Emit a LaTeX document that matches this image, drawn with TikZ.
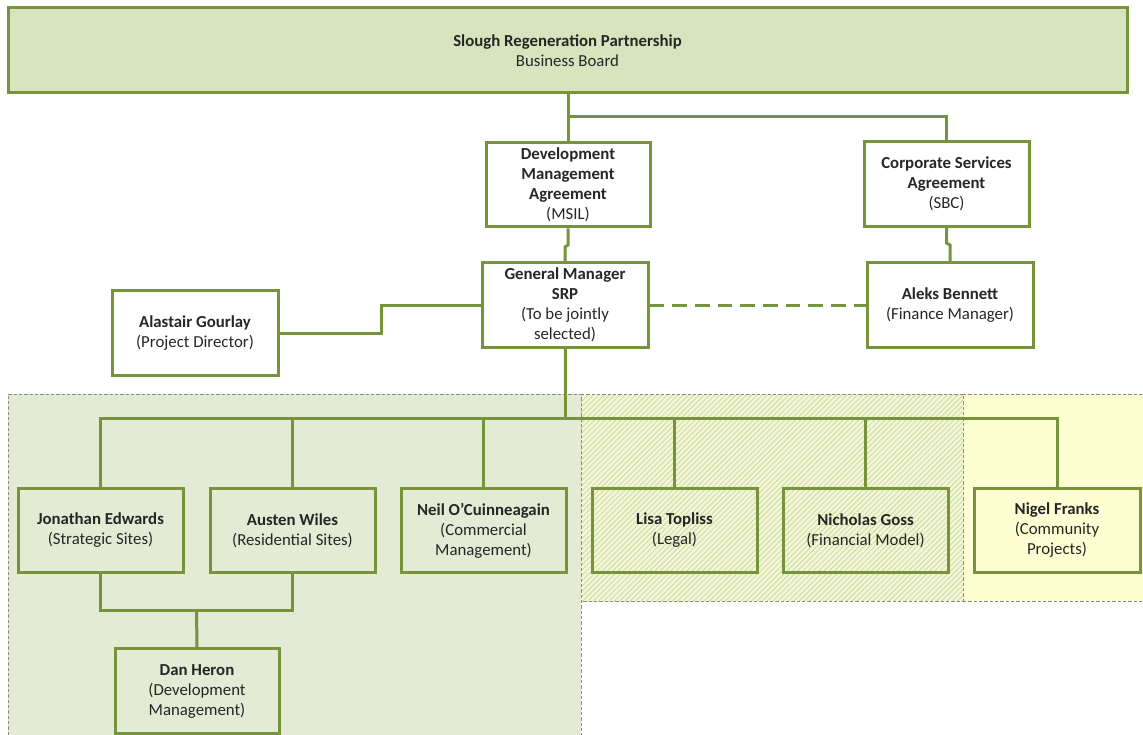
\documentclass[tikz,border=0pt]{standalone}
\usepackage{fontspec}
\setmainfont{Carlito}
\usetikzlibrary{patterns.meta}
\definecolor{olv}{HTML}{77933C}
\definecolor{topfill}{HTML}{D7E4BD}
\definecolor{greenreg}{HTML}{E3EBD5}
\definecolor{hatchbase}{HTML}{F3F7D8}
\definecolor{hatchline}{HTML}{CBD99C}
\definecolor{yellowreg}{HTML}{FEFED3}
\definecolor{regborder}{HTML}{8C8C80}
\definecolor{txt}{HTML}{262626}
\tikzset{
  box/.style={draw=olv, line width=2.25pt, inner sep=0pt, align=center,
    text=txt, font=\fontsize{12.6}{15}\selectfont,
    minimum width=123.75pt, minimum height=63.5pt},
  conn/.style={draw=olv, line width=2.25pt},
  dconn/.style={draw=olv, line width=2.25pt, dash pattern=on 11pt off 6pt},
  regb/.style={draw=regborder, line width=0.6pt, dash pattern=on 2.5pt off 1.5pt},
}
\begin{document}
\begin{tikzpicture}[x=0.75pt,y=-0.75pt]
\useasboundingbox (0,0) rectangle (1143,735);
% regions
\fill[greenreg] (8,394) rectangle (581,735);
\fill[hatchbase] (581,394) rectangle (963,601);
\fill[pattern={Lines[angle=45,distance=2.8pt,line width=0.6pt]}, pattern color=hatchline] (581,394) rectangle (963,601);
\fill[yellowreg] (963,394) rectangle (1143,601);
\draw[regb] (8,735) -- (8,394) -- (581,394) -- (581,735);
\draw[regb] (581,394) -- (963,394) -- (963,601) -- (581,601);
\draw[regb] (963,394) -- (1143,394);
\draw[regb] (963,601) -- (1143,601);
% boxes
\node[box, fill=topfill, minimum width=839.25pt, minimum height=63.75pt] (top) at (567.5,50.5) {\textbf{Slough Regeneration Partnership}\\Business Board};
\node[box, minimum width=123pt] (dma) at (568,184.5) {\textbf{Development}\\\textbf{Management}\\\textbf{Agreement}\\(MSIL)};
\node[box] (csa) at (946.5,184) {\textbf{Corporate Services}\\\textbf{Agreement}\\(SBC)};
\node[box, minimum width=124.5pt] (gm) at (565,305) {\textbf{General Manager}\\\textbf{SRP}\\(To be jointly\\selected)};
\node[box, minimum width=124.5pt] (aleks) at (950,305) {\textbf{Aleks Bennett}\\(Finance Manager)};
\node[box, minimum width=124.5pt] (ag) at (195,333) {\textbf{Alastair Gourlay}\\(Project Director)};
\node[box] (je) at (100.5,530.5) {\textbf{Jonathan Edwards}\\(Strategic Sites)};
\node[box] (aw) at (292.5,530.5) {\textbf{Austen Wiles}\\(Residential Sites)};
\node[box] (no) at (483.5,530.5) {\textbf{Neil O’Cuinneagain}\\(Commercial\\Management)};
\node[box] (lt) at (674.5,530.5) {\textbf{Lisa Topliss}\\(Legal)};
\node[box] (ng) at (865.5,530.5) {\textbf{Nicholas Goss}\\(Financial Model)};
\node[box, minimum width=124.5pt] (nf) at (1057,530.5) {\textbf{Nigel Franks}\\(Community\\Projects)};
\node[box, minimum width=123pt] (dan) at (197,691) {\textbf{Dan Heron}\\(Development\\Management)};
% connectors
\coordinate (j1) at (568,117);
\coordinate (bus) at (565,418);
\coordinate (j2) at (196.5,610);
\draw[conn] (top.south -| dma.north) -- (dma.north);
\draw[conn] (j1) -| (csa.north);
\draw[conn] (dma.south) -- (568,245) -- (565,247) -- (gm.north);
\draw[conn] (csa.south) -- (946.5,243) -- (950,245) -- (aleks.north);
\draw[dconn] (gm.east) -- (aleks.west);
\draw[conn] (ag.east) -- (381,333) |- (gm.west);
\draw[conn] (gm.south) -- (bus);
\draw[conn] (je.north) -- (je.north |- bus) -- (nf.north |- bus) -- (nf.north);
\draw[conn] (aw.north) -- (aw.north |- bus);
\draw[conn] (no.north) -- (no.north |- bus);
\draw[conn] (lt.north) -- (lt.north |- bus);
\draw[conn] (ng.north) -- (ng.north |- bus);
\draw[conn] (je.south) -- (je.south |- j2) -- (aw.south |- j2) -- (aw.south);
\draw[conn] (j2) -- (dan.north);
\end{tikzpicture}
\end{document}
